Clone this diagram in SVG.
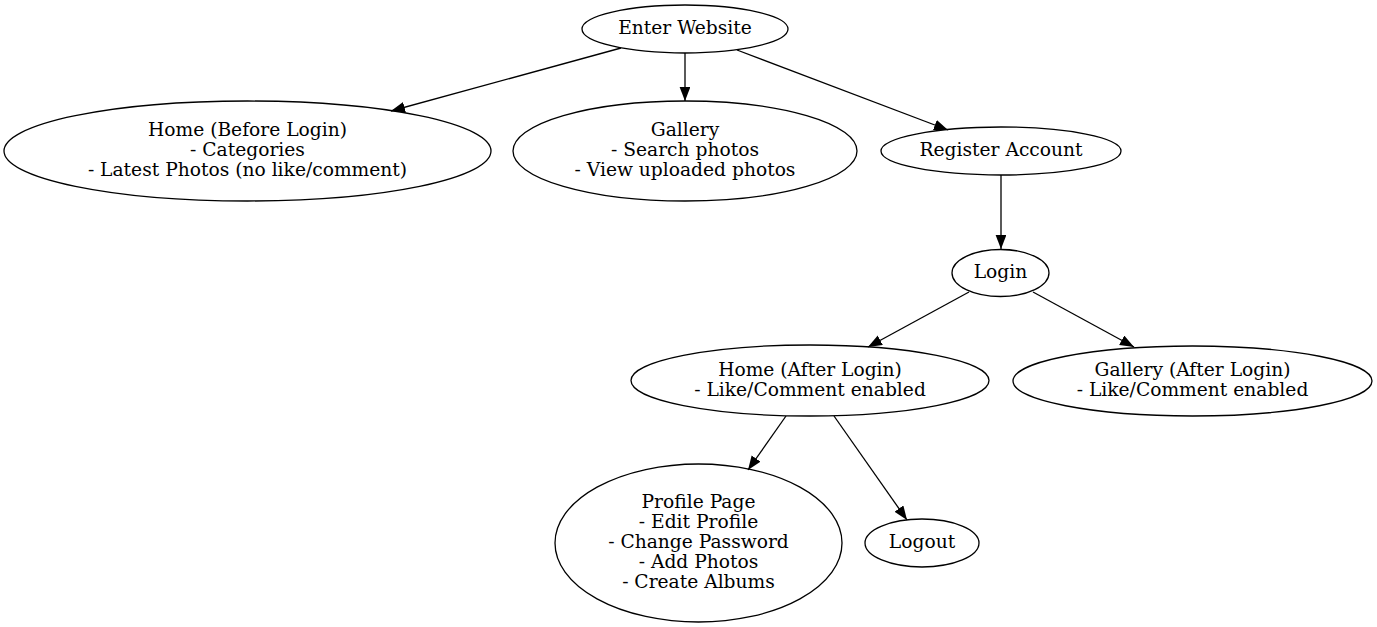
<svg xmlns="http://www.w3.org/2000/svg" width="1377" height="627" viewBox="0 0 1377 627">
<style>
.n ellipse{fill:none;stroke:#000;stroke-width:1.3}
.n text{font-family:"DejaVu Serif",serif;font-size:18.67px;text-anchor:middle;fill:#000}
.e line{stroke:#000;stroke-width:1.3}
</style>
<defs>
<marker id="ah" markerUnits="userSpaceOnUse" markerWidth="15" markerHeight="12" refX="14" refY="5.4" orient="auto">
<path d="M0,0 L14,5.4 L0,10.8 z" fill="#000"/>
</marker>
</defs>
<rect width="1377" height="627" fill="#fff"/>
<g id="connectors" class="e">
<line x1="621" y1="48" x2="391" y2="111" marker-end="url(#ah)"/>
<line x1="685" y1="53" x2="685" y2="101" marker-end="url(#ah)"/>
<line x1="737" y1="50" x2="948" y2="130" marker-end="url(#ah)"/>
<line x1="1001" y1="175" x2="1001" y2="249" marker-end="url(#ah)"/>
<line x1="969" y1="292" x2="868" y2="347" marker-end="url(#ah)"/>
<line x1="1033" y1="292" x2="1134" y2="347" marker-end="url(#ah)"/>
<line x1="786" y1="416" x2="748" y2="470" marker-end="url(#ah)"/>
<line x1="834" y1="416" x2="907" y2="520" marker-end="url(#ah)"/>
</g>
<g id="enter" class="n"><ellipse cx="685" cy="29" rx="103" ry="24"/><text x="685" y="34">Enter Website</text></g>
<g id="home_before" class="n"><ellipse cx="247.5" cy="151" rx="243.5" ry="50"/><text x="247.5" y="136">Home (Before Login)</text><text x="247.5" y="156">- Categories</text><text x="247.5" y="176">- Latest Photos (no like/comment)</text></g>
<g id="gallery" class="n"><ellipse cx="685" cy="151" rx="172" ry="50"/><text x="685" y="136">Gallery</text><text x="685" y="156">- Search photos</text><text x="685" y="176">- View uploaded photos</text></g>
<g id="register" class="n"><ellipse cx="1001" cy="151" rx="120" ry="24"/><text x="1001" y="156">Register Account</text></g>
<g id="login" class="n"><ellipse cx="1000.5" cy="273" rx="48.5" ry="23.5"/><text x="1000.5" y="278">Login</text></g>
<g id="home_after" class="n"><ellipse cx="810" cy="380.5" rx="179" ry="35.5"/><text x="810" y="375.5">Home (After Login)</text><text x="810" y="395.5">- Like/Comment enabled</text></g>
<g id="gallery_after" class="n"><ellipse cx="1192.5" cy="381" rx="179.5" ry="35"/><text x="1192.5" y="376">Gallery (After Login)</text><text x="1192.5" y="396">- Like/Comment enabled</text></g>
<g id="profile" class="n"><ellipse cx="698.5" cy="543" rx="143.5" ry="79"/><text x="698.5" y="508">Profile Page</text><text x="698.5" y="528">- Edit Profile</text><text x="698.5" y="548">- Change Password</text><text x="698.5" y="568">- Add Photos</text><text x="698.5" y="588">- Create Albums</text></g>
<g id="logout" class="n"><ellipse cx="922" cy="543" rx="57" ry="24"/><text x="922" y="548">Logout</text></g>
</svg>
